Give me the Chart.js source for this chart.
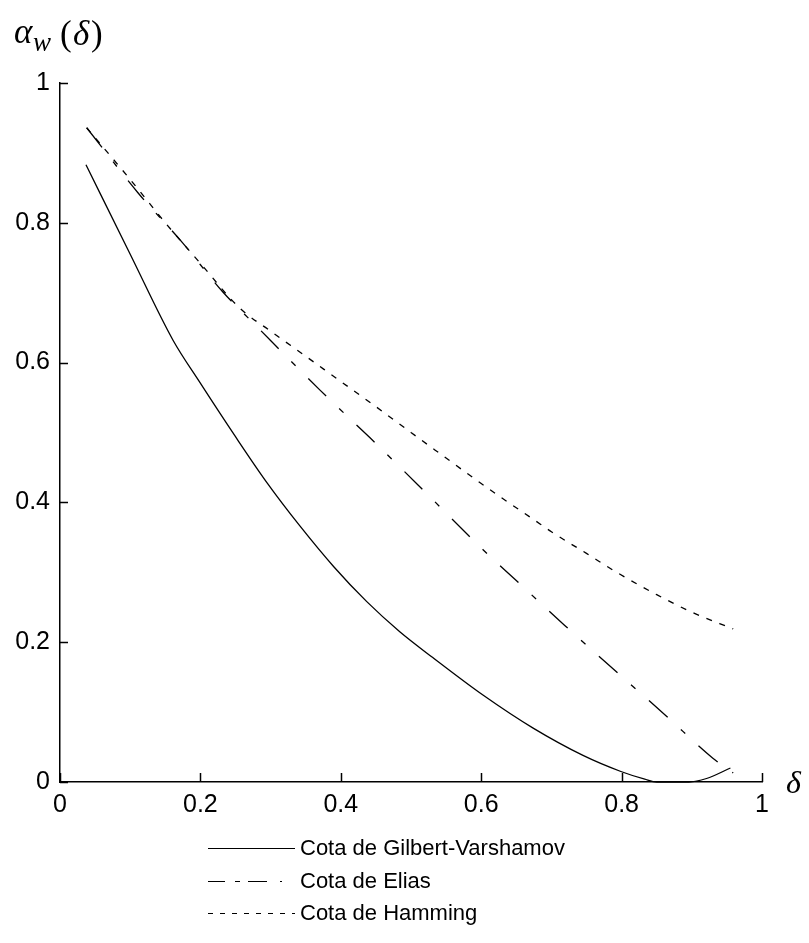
<!DOCTYPE html>
<html>
<head>
<meta charset="utf-8">
<script src="https://cdn.jsdelivr.net/npm/chart.js@4/dist/chart.umd.min.js"></script>
<style>
  html, body { margin: 0; padding: 0; background: #fff; }
  #wrap { width: 809px; height: 943px; position: relative; }
</style>
</head>
<body>
<div id="wrap"><canvas id="c" width="809" height="943"></canvas></div>
<script>
// ---- data ----
const seriesNames = ['Cota de Gilbert-Varshamov', 'Cota de Elias', 'Cota de Hamming'];

const gvDelta = [0.037, 0.10, 0.161, 0.199, 0.25, 0.295, 0.342, 0.39, 0.437, 0.484, 0.531, 0.603, 0.674, 0.745, 0.799, 0.833, 0.85, 0.896, 0.921, 0.955];
const gvAlpha = [0.883, 0.755, 0.632, 0.572, 0.494, 0.428, 0.366, 0.308, 0.258, 0.215, 0.178, 0.124, 0.077, 0.038, 0.015, 0.004, 0.000, 0.000, 0.005, 0.020];

const elDelta = [0.038, 0.111, 0.175, 0.232, 0.278, 0.370, 0.442, 0.510, 0.603, 0.648, 0.719, 0.791, 0.862, 0.930, 0.959];
const elAlpha = [0.936, 0.843, 0.771, 0.701, 0.654, 0.561, 0.492, 0.425, 0.332, 0.290, 0.224, 0.159, 0.096, 0.034, 0.013];

const hmDelta = [0.038, 0.10, 0.15, 0.20, 0.256, 0.30, 0.346, 0.40, 0.45, 0.50, 0.541, 0.60, 0.627, 0.674, 0.70, 0.75, 0.793, 0.85, 0.90, 0.959];
const hmAlpha = [0.936, 0.862, 0.800, 0.742, 0.678, 0.645, 0.612, 0.573, 0.537, 0.500, 0.470, 0.427, 0.408, 0.376, 0.358, 0.327, 0.300, 0.268, 0.243, 0.219];

const xTickLabels = ['0', '0.2', '0.4', '0.6', '0.8', '1'];
const yTickLabels = ['0', '0.2', '0.4', '0.6', '0.8', '1'];

// ---- build ----
const toPts = (xs, ys) => xs.map((x, i) => ({ x: x, y: ys[i] }));
const dashes = [[], [25, 18, 6, 18], [6, 8]];
const legendDashes = [[], [17, 10, 5, 8, 19, 13, 2, 20], [5, 7]];
const tickFont = "'Liberation Sans', Arial, sans-serif";
const serif = "'Liberation Serif', 'DejaVu Serif', serif";

const inwardTicks = {
  id: 'inwardTicks',
  afterDraw(chart) {
    const ctx = chart.ctx, a = chart.chartArea;
    const xs = chart.scales.x, ys = chart.scales.y;
    ctx.save();
    ctx.strokeStyle = '#000';
    ctx.lineWidth = 1.5;
    ctx.setLineDash([]);
    ctx.beginPath();
    xs.ticks.forEach(t => {
      const px = Math.round(xs.getPixelForValue(t.value)) + 0.5;
      ctx.moveTo(px, a.bottom); ctx.lineTo(px, a.bottom - 9);
    });
    ys.ticks.forEach(t => {
      const py = Math.round(ys.getPixelForValue(t.value)) + 0.5;
      ctx.moveTo(a.left, py); ctx.lineTo(a.left + 8, py);
    });
    ctx.stroke();

    // axis titles
    ctx.fillStyle = '#000';
    ctx.textBaseline = 'alphabetic';
    ctx.font = "italic 35px " + serif;
    ctx.fillText('α', 14, 43);
    ctx.font = "italic 27px " + serif;
    ctx.fillText('w', 33, 51);
    ctx.font = "35px " + serif;
    ctx.fillText('(', 60, 45);
    ctx.font = "italic 35px " + serif;
    ctx.fillText('δ', 73, 45);
    ctx.font = "35px " + serif;
    ctx.fillText(')', 91, 45);
    ctx.font = "italic 32px " + serif;
    ctx.fillText('δ', 786, 793);

    // legend
    const rowsY = [848, 881, 913];
    ctx.font = "22px 'Liberation Sans', Arial, sans-serif";
    ctx.textBaseline = 'middle';
    chart.data.datasets.forEach((ds, i) => {
      const y = rowsY[i] + 0.5;
      ctx.lineWidth = 1.2;
      ctx.setLineDash(legendDashes[i]);
      ctx.beginPath();
      ctx.moveTo(208, y); ctx.lineTo(295, y);
      ctx.stroke();
      ctx.setLineDash([]);
      ctx.fillText(ds.label, 300, rowsY[i] + 1);
    });
    ctx.restore();
  }
};

new Chart(document.getElementById('c'), {
  type: 'line',
  data: {
    datasets: [
      { label: seriesNames[0], data: toPts(gvDelta, gvAlpha) },
      { label: seriesNames[1], data: toPts(elDelta, elAlpha) },
      { label: seriesNames[2], data: toPts(hmDelta, hmAlpha) }
    ].map((d, i) => Object.assign(d, {
      borderColor: '#000', borderWidth: 1.3, borderDash: dashes[i],
      pointRadius: 0, fill: false, cubicInterpolationMode: 'monotone', clip: false
    }))
  },
  options: {
    responsive: false,
    animation: false,
    events: [],
    layout: { padding: { left: 0, right: 47, top: 83, bottom: 0 } },
    plugins: { legend: { display: false }, tooltip: { enabled: false }, title: { display: false } },
    scales: {
      x: {
        type: 'linear', min: 0, max: 1, position: 'bottom',
        grid: { display: false, drawTicks: false },
        border: { display: true, color: '#000', width: 1.5 },
        ticks: {
          stepSize: 0.2, padding: 8, color: '#000',
          font: { family: tickFont, size: 25 },
          callback: (v, i) => xTickLabels[i]
        },
        afterFit: s => { s.height = 161; }
      },
      y: {
        type: 'linear', min: 0, max: 1, position: 'left',
        grid: { display: false, drawTicks: false },
        border: { display: true, color: '#000', width: 1.5 },
        ticks: {
          stepSize: 0.2, padding: 10, color: '#000',
          font: { family: tickFont, size: 25 },
          callback: (v, i) => yTickLabels[i]
        },
        afterFit: s => { s.width = 60; }
      }
    }
  },
  plugins: [inwardTicks]
});
</script>
</body>
</html>
